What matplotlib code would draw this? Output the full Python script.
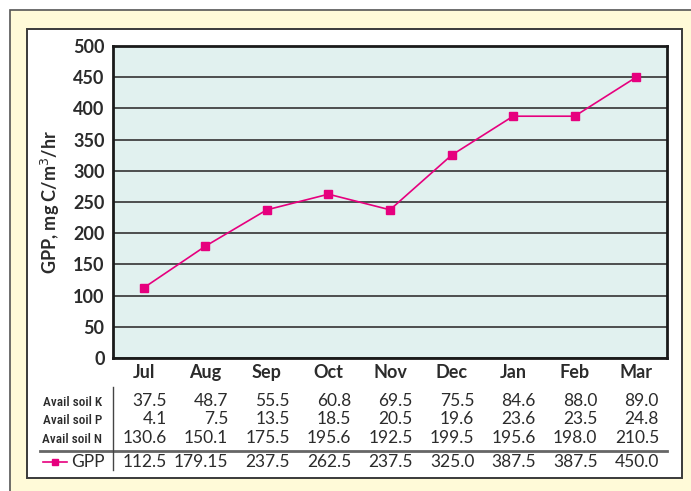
import numpy as np
import matplotlib.pyplot as plt
from matplotlib.patches import Rectangle
from matplotlib.lines import Line2D
from matplotlib.transforms import blended_transform_factory

months = ["Jul", "Aug", "Sep", "Oct", "Nov", "Dec", "Jan", "Feb", "Mar"]
soil_k = ["37.5", "48.7", "55.5", "60.8", "69.5", "75.5", "84.6", "88.0", "89.0"]
soil_p = ["4.1", "7.5", "13.5", "18.5", "20.5", "19.6", "23.6", "23.5", "24.8"]
soil_n = ["130.6", "150.1", "175.5", "195.6", "192.5", "199.5", "195.6", "198.0", "210.5"]
gpp = [112.5, 179.15, 237.5, 262.5, 237.5, 325.0, 387.5, 387.5, 450.0]
gpp_labels = ["112.5", "179.15", "237.5", "262.5", "237.5", "325.0", "387.5", "387.5", "450.0"]
row_names = ["Avail soil K", "Avail soil P", "Avail soil N"]

plt.rcParams['font.family'] = ['Lato', 'DejaVu Sans']
narrow = ['Roboto Condensed', 'Open Sans Condensed', 'DejaVu Sans Condensed', 'Lato']
txt = "#2b2b2b"
pink = "#e6007e"

W, H = 691, 491
fig = plt.figure(figsize=(W / 100, H / 100), dpi=100)
fig.patch.set_facecolor("white")


def fx(px):
    return px / W


def fy(py):
    return 1 - py / H


# yellow outer panel and white inner panel
fig.patches.append(Rectangle((fx(9.5), fy(495)), fx(700) - fx(9.5), fy(10) - fy(495),
                             transform=fig.transFigure, facecolor="#fffad8",
                             edgecolor="#555555", lw=1.2, zorder=-3))
fig.patches.append(Rectangle((fx(27), fy(478)), fx(682) - fx(27), fy(29) - fy(478),
                             transform=fig.transFigure, facecolor="white",
                             edgecolor="#3a3a3a", lw=1.4, zorder=-2))

ax = fig.add_axes([fx(113), fy(358), fx(667) - fx(113), fy(46) - fy(358)])
ax.set_facecolor("#e1f1ef")
x = np.arange(len(months))
ax.plot(x, gpp, color=pink, lw=1.2, marker="s", markersize=5.5, zorder=3)
ax.set_xlim(-0.5, len(months) - 0.5)
ax.set_ylim(0, 500)
ax.set_yticks(np.arange(0, 501, 50))
ax.tick_params(axis="y", length=0, pad=6, labelsize=13, labelcolor=txt)
for lab in ax.get_yticklabels():
    lab.set_fontweight("bold")
ax.set_xticks(x)
ax.set_xticklabels(months, fontsize=13, fontweight="bold", color=txt)
ax.tick_params(axis="x", length=0, pad=4)
ax.grid(axis="y", color="#333333", lw=1.2)
ax.set_axisbelow(True)
for s in ax.spines.values():
    s.set_linewidth(2)
    s.set_color("#1a1a1a")
ax.set_ylabel("GPP, mg C/m$^3$/hr", fontsize=13, fontweight="bold", color=txt, labelpad=8)

# data table under the chart
tr = blended_transform_factory(ax.transData, fig.transFigure)
rows = [soil_k, soil_p, soil_n]
row_base = [406, 424, 443]
for vals, name, yb in zip(rows, row_names, row_base):
    for i, v in enumerate(vals):
        ax.text(i + 0.37, fy(yb), v, transform=tr, ha="right", va="baseline",
                fontsize=12.5, color=txt, clip_on=False)
    fig.text(fx(102), fy(yb), name, ha="right", va="baseline", fontsize=9.5,
             color=txt, family=narrow, fontweight="medium")
for i, v in enumerate(gpp_labels):
    ax.text(i + 0.37, fy(467), v, transform=tr, ha="right", va="baseline",
            fontsize=12.5, color=txt, clip_on=False)
fig.text(fx(105), fy(467), "GPP", ha="right", va="baseline", fontsize=12.5, color=txt)
fig.add_artist(Line2D([fx(43), fx(67)], [fy(462), fy(462)], color=pink, lw=1.2,
                      transform=fig.transFigure))
fig.add_artist(Line2D([fx(55)], [fy(462)], color=pink, marker="s", markersize=5,
                      transform=fig.transFigure))
fig.add_artist(Line2D([fx(40), fx(667)], [fy(451), fy(451)], color="#666666", lw=2,
                      transform=fig.transFigure))
fig.add_artist(Line2D([fx(113), fx(113)], [fy(387), fy(470)], color="#444444", lw=1,
                      transform=fig.transFigure))

fig.savefig("out.png", dpi=100)
